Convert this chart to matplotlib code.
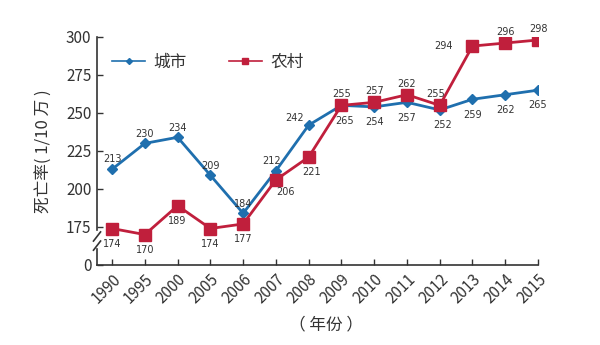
import matplotlib
matplotlib.use("Agg")
import matplotlib.pyplot as plt

plt.rcParams['font.family'] = ['Noto Sans CJK SC', 'DejaVu Sans']

years = ['1990', '1995', '2000', '2005', '2006', '2007', '2008',
         '2009', '2010', '2011', '2012', '2013', '2014', '2015']
city = [213, 230, 234, 209, 184, 212, 242, 255, 254, 257, 252, 259, 262, 265]
rural = [174, 170, 189, 174, 177, 206, 221, 255, 257, 262, 255, 294, 296, 298]
# labels as printed in the original (2009 city reads 265)
city_labels = ['213', '230', '234', '209', '184', '212', '242',
               '265', '254', '257', '252', '259', '262', '265']
rural_labels = [str(v) for v in rural]

# label offsets in points (dx, dy)
city_off = [(0, 7), (0, 7), (0, 7), (0, 7), (0, 7), (-3, 7), (-10, 5),
            (2, -11), (0, -11), (0, -11), (2, -11), (0, -11), (0, -11), (0, -11)]
rural_off = [(0, -11), (0, -11), (0, -11), (0, -11), (0, -11), (7, -9), (2, -11),
             (0, 8), (0, 8), (0, 8), (-3, 8), (-14, 0), (0, 8), (0, 8)]

blue = '#1f6fae'
red = '#c01f3c'
txt = '#333333'

fig = plt.figure(figsize=(6, 3.45), dpi=100)
ax = fig.add_axes([0.1617, 0.2319, 0.735, 0.661])

x = list(range(len(years)))
ax.plot(x, city, color=blue, lw=2, marker='D', ms=5.5, label='城市', zorder=3)
ax.plot(x, rural, color=red, lw=2, marker='s', ms=8, label='农村', zorder=3)

for i in x:
    ha = 'right' if rural_off[i][0] < -5 else 'center'
    ax.annotate(city_labels[i], (i, city[i]), xytext=city_off[i], textcoords='offset points',
                ha='center', va='center', fontsize=7, color=txt, family='DejaVu Sans')
    ax.annotate(rural_labels[i], (i, rural[i]), xytext=rural_off[i], textcoords='offset points',
                ha=ha, va='center', fontsize=7, color=txt, family='DejaVu Sans')

ax.set_xlim(-0.46, 13)
ax.set_ylim(150, 300)
ax.set_xticks(x)
ax.set_xticklabels(years, rotation=45, ha='right', rotation_mode='anchor', fontsize=11, color=txt)
ax.set_yticks([150, 175, 200, 225, 250, 275, 300])
ax.set_yticklabels(['0', '175', '200', '225', '250', '275', '300'], fontsize=11, color=txt)
ax.tick_params(axis='x', direction='in', length=4, width=1, color=txt, pad=4)
ax.tick_params(axis='y', direction='in', length=4, width=1, color=txt, pad=4)

for s in ['top', 'right', 'left']:
    ax.spines[s].set_visible(False)
ax.spines['bottom'].set_color(txt)
ax.spines['bottom'].set_linewidth(1.2)

# broken left axis
ax.plot([0, 0], [1, 0.155], transform=ax.transAxes, color=txt, lw=1.2, clip_on=False)
ax.plot([0, 0], [0.07, 0], transform=ax.transAxes, color=txt, lw=1.2, clip_on=False)
for yb in [0.125, 0.085]:
    ax.plot([-0.008, 0.008], [yb - 0.02, yb + 0.02], transform=ax.transAxes,
            color=txt, lw=1.2, clip_on=False)

ax.set_ylabel('死亡率( 1/10 万 )', fontsize=12, color=txt, labelpad=10)
ax.set_xlabel('（ 年份 ）', fontsize=12, color=txt, labelpad=0)
ax.xaxis.set_label_coords(0.52, -0.225)

leg = ax.legend(loc='upper left', bbox_to_anchor=(0.0, 0.99), ncol=2, frameon=False,
                fontsize=12, markerscale=0.55, handlelength=2.0, handletextpad=0.5,
                columnspacing=2.5, labelcolor=txt)
for h in leg.get_lines():
    h.set_linewidth(1.2)

fig.savefig('out.png', dpi=100)
